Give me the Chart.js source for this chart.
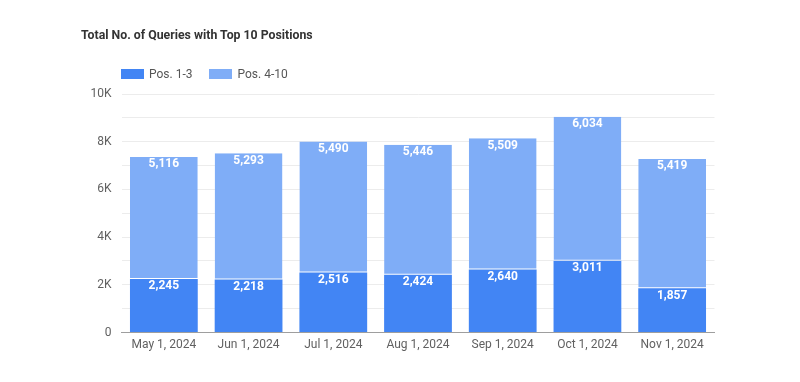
<!DOCTYPE html>
<html>
<head>
<meta charset="utf-8">
<script src="https://cdn.jsdelivr.net/npm/chart.js@4"></script>
<style>
  html, body { margin: 0; padding: 0; background: #fff; }
  #wrap { position: relative; width: 800px; height: 382px; font-family: Roboto, "Noto Sans", sans-serif; }
  #title { position: absolute; left: 81px; top: 28px; font-size: 12.3px; font-weight: bold; color: #333; white-space: nowrap; }
  #legend { position: absolute; left: 121px; top: 67px; font-size: 12px; color: #555; display: flex; align-items: center; white-space: nowrap; }
  .item { display: flex; align-items: center; margin-right: 17px; }
  .sw { width: 23px; height: 10px; margin-right: 5px; }
  canvas { position: absolute; left: 0; top: 0; }
</style>
</head>
<body>
<div id="wrap">
  <canvas id="c" width="800" height="382"></canvas>
  <div id="title">Total No. of Queries with Top 10 Positions</div>
  <div id="legend"></div>
</div>
<script>
const categories = ["May 1, 2024", "Jun 1, 2024", "Jul 1, 2024", "Aug 1, 2024", "Sep 1, 2024", "Oct 1, 2024", "Nov 1, 2024"];
const seriesNames = ["Pos. 1-3", "Pos. 4-10"];
const pos1to3 = [2245, 2218, 2516, 2424, 2640, 3011, 1857];
const pos4to10 = [5116, 5293, 5490, 5446, 5509, 6034, 5419];
const yTickLabels = { 0: "0", 2000: "2K", 4000: "4K", 6000: "6K", 8000: "8K", 10000: "10K" };
const colors = ["#4285F4", "#7FADF7"];

const legendEl = document.getElementById("legend");
seriesNames.forEach((n, i) => {
  const d = document.createElement("div");
  d.className = "item";
  d.innerHTML = '<div class="sw" style="background:' + colors[i] + '"></div><span>' + n + '</span>';
  legendEl.appendChild(d);
});

const valueLabels = {
  id: "valueLabels",
  afterDatasetsDraw(chart) {
    const ctx = chart.ctx;
    ctx.save();
    ctx.font = "bold 12px Roboto, 'Noto Sans', sans-serif";
    ctx.fillStyle = "#fff";
    ctx.textAlign = "center";
    ctx.textBaseline = "middle";
    chart.data.datasets.forEach((ds, di) => {
      const meta = chart.getDatasetMeta(di);
      meta.data.forEach((bar, i) => {
        const v = ds.data[i];
        ctx.fillText(v.toLocaleString("en-US"), bar.x, bar.y + 7.5);
      });
    });
    ctx.restore();
  }
};

new Chart(document.getElementById("c"), {
  type: "bar",
  data: {
    labels: categories,
    datasets: [
      { label: seriesNames[0], data: pos1to3, backgroundColor: colors[0], borderWidth: 0 },
      { label: seriesNames[1], data: pos4to10, backgroundColor: colors[1], borderColor: "rgba(255,255,255,0.85)", borderWidth: { top: 0, bottom: 1, left: 0, right: 0 }, borderSkipped: false }
    ]
  },
  options: {
    responsive: false,
    animation: false,
    events: [],
    layout: { padding: { left: 0, right: 85.5, top: 94, bottom: 0 } },
    plugins: { legend: { display: false }, title: { display: false }, tooltip: { enabled: false } },
    datasets: { bar: { categoryPercentage: 0.8, barPercentage: 1.0 } },
    scales: {
      x: {
        stacked: true,
        z: 1,
        grid: { display: false, drawTicks: false },
        border: { display: true, color: "#9e9e9e", width: 1 },
        ticks: { color: "#616161", font: { family: "Roboto", size: 12 }, padding: 5, maxRotation: 0, autoSkip: false },
        afterFit(s) { s.height = 49.5; }
      },
      y: {
        stacked: true,
        min: 0, max: 10000,
        grid: { color: "#ececec", drawTicks: false },
        border: { display: false },
        ticks: {
          stepSize: 1000,
          color: "#616161",
          font: { family: "Roboto", size: 12 },
          padding: 10,
          callback: (v) => (v in yTickLabels ? yTickLabels[v] : "")
        },
        afterFit(s) { s.width = 121.5; }
      }
    }
  },
  plugins: [valueLabels]
});
</script>
</body>
</html>
